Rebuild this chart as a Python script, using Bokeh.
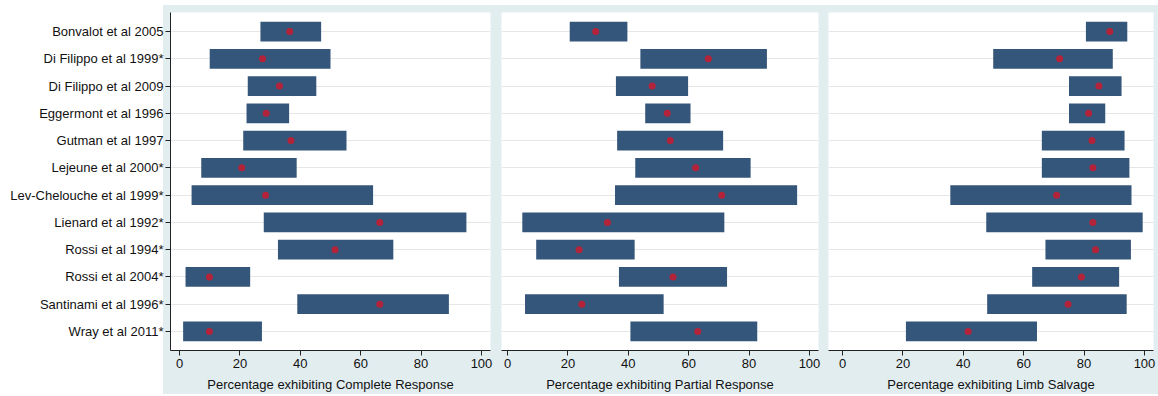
from bokeh.plotting import figure
from bokeh.layouts import row
from bokeh.models import ColumnDataSource, FactorRange, FixedTicker, Range1d
from bokeh.embed import file_html
from bokeh.resources import INLINE

studies = [
    "Bonvalot et al 2005", "Di Filippo et al 1999*", "Di Filippo et al 2009",
    "Eggermont et al 1996", "Gutman et al 1997", "Lejeune et al 2000*",
    "Lev-Chelouche et al 1999*", "Lienard et al 1992*", "Rossi et al 1994*",
    "Rossi et al 2004*", "Santinami et al 1996*", "Wray et al 2011*",
]

# Complete response (lower CI, upper CI, point estimate)
cr_low = [26.8, 10.0, 22.6, 22.2, 21.1, 7.2, 4.0, 27.9, 32.6, 2.0, 39.0, 1.2]
cr_high = [46.9, 50.0, 45.3, 36.3, 55.3, 38.8, 64.1, 95.0, 70.8, 23.4, 89.2, 27.3]
cr_est = [36.5, 27.5, 33.1, 28.7, 36.9, 20.6, 28.5, 66.3, 51.5, 9.9, 66.3, 9.9]

# Partial response
pr_low = [20.6, 44.0, 35.9, 45.6, 36.3, 42.3, 35.6, 4.9, 9.5, 36.9, 5.8, 40.7]
pr_high = [39.7, 85.9, 59.8, 60.6, 71.4, 80.5, 95.9, 71.8, 42.1, 72.7, 51.7, 82.7]
pr_est = [29.2, 66.5, 47.9, 52.9, 53.9, 62.3, 70.9, 33.1, 23.7, 54.8, 24.6, 63.0]

# Limb salvage
ls_low = [80.6, 49.9, 75.0, 75.0, 66.0, 66.0, 35.7, 47.6, 67.2, 62.8, 47.9, 21.0]
ls_high = [94.3, 89.5, 92.4, 87.0, 93.4, 95.0, 95.7, 99.4, 95.5, 91.6, 94.1, 64.4]
ls_est = [88.5, 71.9, 84.9, 81.5, 82.6, 82.9, 70.9, 82.9, 83.8, 79.1, 74.7, 41.6]

x_ticks = [0, 20, 40, 60, 80, 100]
x_titles = [
    "Percentage exhibiting Complete Response",
    "Percentage exhibiting Partial Response",
    "Percentage exhibiting Limb Salvage",
]

BAR = "#34567a"
DOT = "#b3243b"
BLUE = "#e2edf0"
FONT = "Liberation Sans"
FS = "13px"


def make_panel(lo, hi, est, title, xr, width, bl, br, show_y):
    src = ColumnDataSource(dict(study=studies, lo=lo, hi=hi, est=est))
    p = figure(
        y_range=FactorRange(factors=studies[::-1], range_padding=0.2,
                            range_padding_units="absolute"),
        x_range=Range1d(*xr),
        width=width, height=394,
        min_border_left=bl, min_border_right=br,
        min_border_top=12, min_border_bottom=42,
        output_backend="svg", toolbar_location=None,
    )
    p.hbar(y="study", left="lo", right="hi", height=0.73, source=src,
           fill_color=BAR, line_color=None)
    p.scatter(x="est", y="study", source=src, size=7, marker="circle",
              fill_color=DOT, line_color=None)

    p.background_fill_color = "white"
    p.border_fill_alpha = 0
    p.outline_line_color = None

    p.xgrid.visible = False
    p.ygrid.grid_line_color = "#e6e6e6"
    p.ygrid.grid_line_width = 1

    xa = p.xaxis[0]
    xa.ticker = FixedTicker(ticks=x_ticks)
    xa.minor_tick_line_color = None
    xa.major_tick_out = 5
    xa.major_tick_in = 0
    xa.major_label_standoff = 3
    xa.axis_label = title
    xa.axis_label_standoff = 6
    xa.axis_label_text_font_style = "normal"
    xa.axis_label_text_font = FONT
    xa.axis_label_text_font_size = FS
    xa.axis_label_text_color = "#111111"
    xa.major_label_text_font = FONT
    xa.major_label_text_font_size = FS
    xa.major_label_text_color = "#111111"
    xa.axis_line_color = "#222222"
    xa.major_tick_line_color = "#222222"

    ya = p.yaxis[0]
    if show_y:
        ya.major_tick_out = 5
        ya.major_tick_in = 0
        ya.major_label_standoff = 2
        ya.major_label_text_font = FONT
        ya.major_label_text_font_size = FS
        ya.major_label_text_color = "#111111"
        ya.axis_line_color = "#222222"
        ya.major_tick_line_color = "#222222"
        ya.minor_tick_line_color = None
    else:
        ya.visible = False
    return p


p1 = make_panel(cr_low, cr_high, cr_est, x_titles[0], (-2.98, 102.98), 495, 170, 5, True)
p1.styles = {"background": "linear-gradient(to right, #ffffff 163px, transparent 163px), "
                           "linear-gradient(to bottom, #ffffff 5px, %s 5px)" % BLUE}
p2 = make_panel(pr_low, pr_high, pr_est, x_titles[1], (-1.99, 102.98), 327, 6, 4, False)
p3 = make_panel(ls_low, ls_high, ls_est, x_titles[2], (-4.64, 102.98), 336, 6, 5, False)
for p in (p2, p3):
    p.styles = {"background": "linear-gradient(to bottom, #ffffff 5px, %s 5px)" % BLUE}

layout = row(p1, p2, p3)
open("out.html", "w").write(file_html(layout, INLINE))
